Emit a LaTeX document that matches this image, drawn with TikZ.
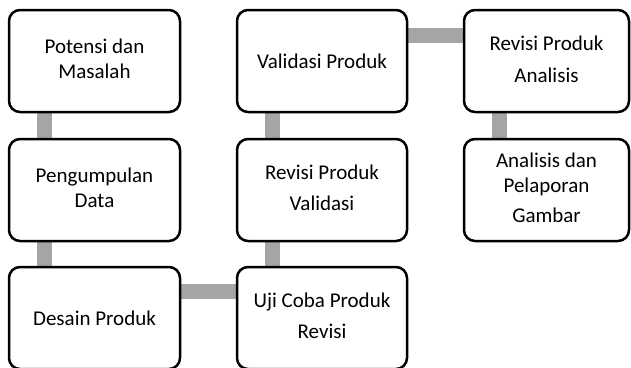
\documentclass[tikz,border=0pt]{standalone}
\usepackage{fontspec}
\setmainfont{Carlito}
\usetikzlibrary{backgrounds}
\definecolor{grisbarra}{RGB}{165,165,165}

\begin{document}
\begin{tikzpicture}[x=1pt,y=-1pt,
    caja/.style={rectangle, rounded corners=11pt, draw=black, line width=2.5pt, fill=white, minimum width=171pt, minimum height=102pt, inner sep=0pt, outer sep=0pt, font=\fontsize{21}{25}\selectfont},
    barra/.style={draw=grisbarra, line width=15pt}]
    \path[use as bounding box, clip] (0,0) rectangle (631,367);
    \node (pot) [caja] at (94.5,61) {\begin{tabular}{c}
         Potensi dan\\ Masalah
    \end{tabular}};
    \node (pen) [caja] at (94.5,190) {\begin{tabular}{c}
         Pengumpulan\\ Data
    \end{tabular}};
    \node (des) [caja] at (94.5,318) {Desain Produk};
    \node (uji) [caja, minimum width=170pt] at (322,318) {\begin{tabular}{c}
         Uji Coba Produk\\[6pt] Revisi
    \end{tabular}};
    \node (rev) [caja, minimum width=170pt] at (322,190) {\begin{tabular}{c}
         Revisi Produk\\[6pt] Validasi
    \end{tabular}};
    \node (val) [caja, minimum width=170pt] at (322,61) {Validasi Produk};
    \node (ana) [caja, minimum width=165pt] at (546.5,61) {\begin{tabular}{c}
         Revisi Produk\\[7pt] Analisis
    \end{tabular}};
    \node (lap) [caja, minimum width=165pt] at (546.5,190) {\begin{tabular}{c}
         Analisis dan\\ Pelaporan\\[5pt] Gambar
    \end{tabular}};
    \begin{scope}[on background layer]
        \draw[barra] ([xshift=35pt]pot.south west) -- ([xshift=35pt]pen.north west);
        \draw[barra] ([xshift=35pt]pen.south west) -- ([xshift=35pt]des.north west);
        \draw[barra] ([yshift=-24pt]des.north east) -- ([yshift=-24pt]uji.north west);
        \draw[barra] ([xshift=35pt]uji.north west) -- ([xshift=35pt]rev.south west);
        \draw[barra] ([xshift=35pt]rev.north west) -- ([xshift=35pt]val.south west);
        \draw[barra] ([yshift=-25pt]val.north east) -- ([yshift=-25pt]ana.north west);
        \draw[barra] ([xshift=35pt]ana.south west) -- ([xshift=35pt]lap.north west);
    \end{scope}
\end{tikzpicture}
\end{document}
